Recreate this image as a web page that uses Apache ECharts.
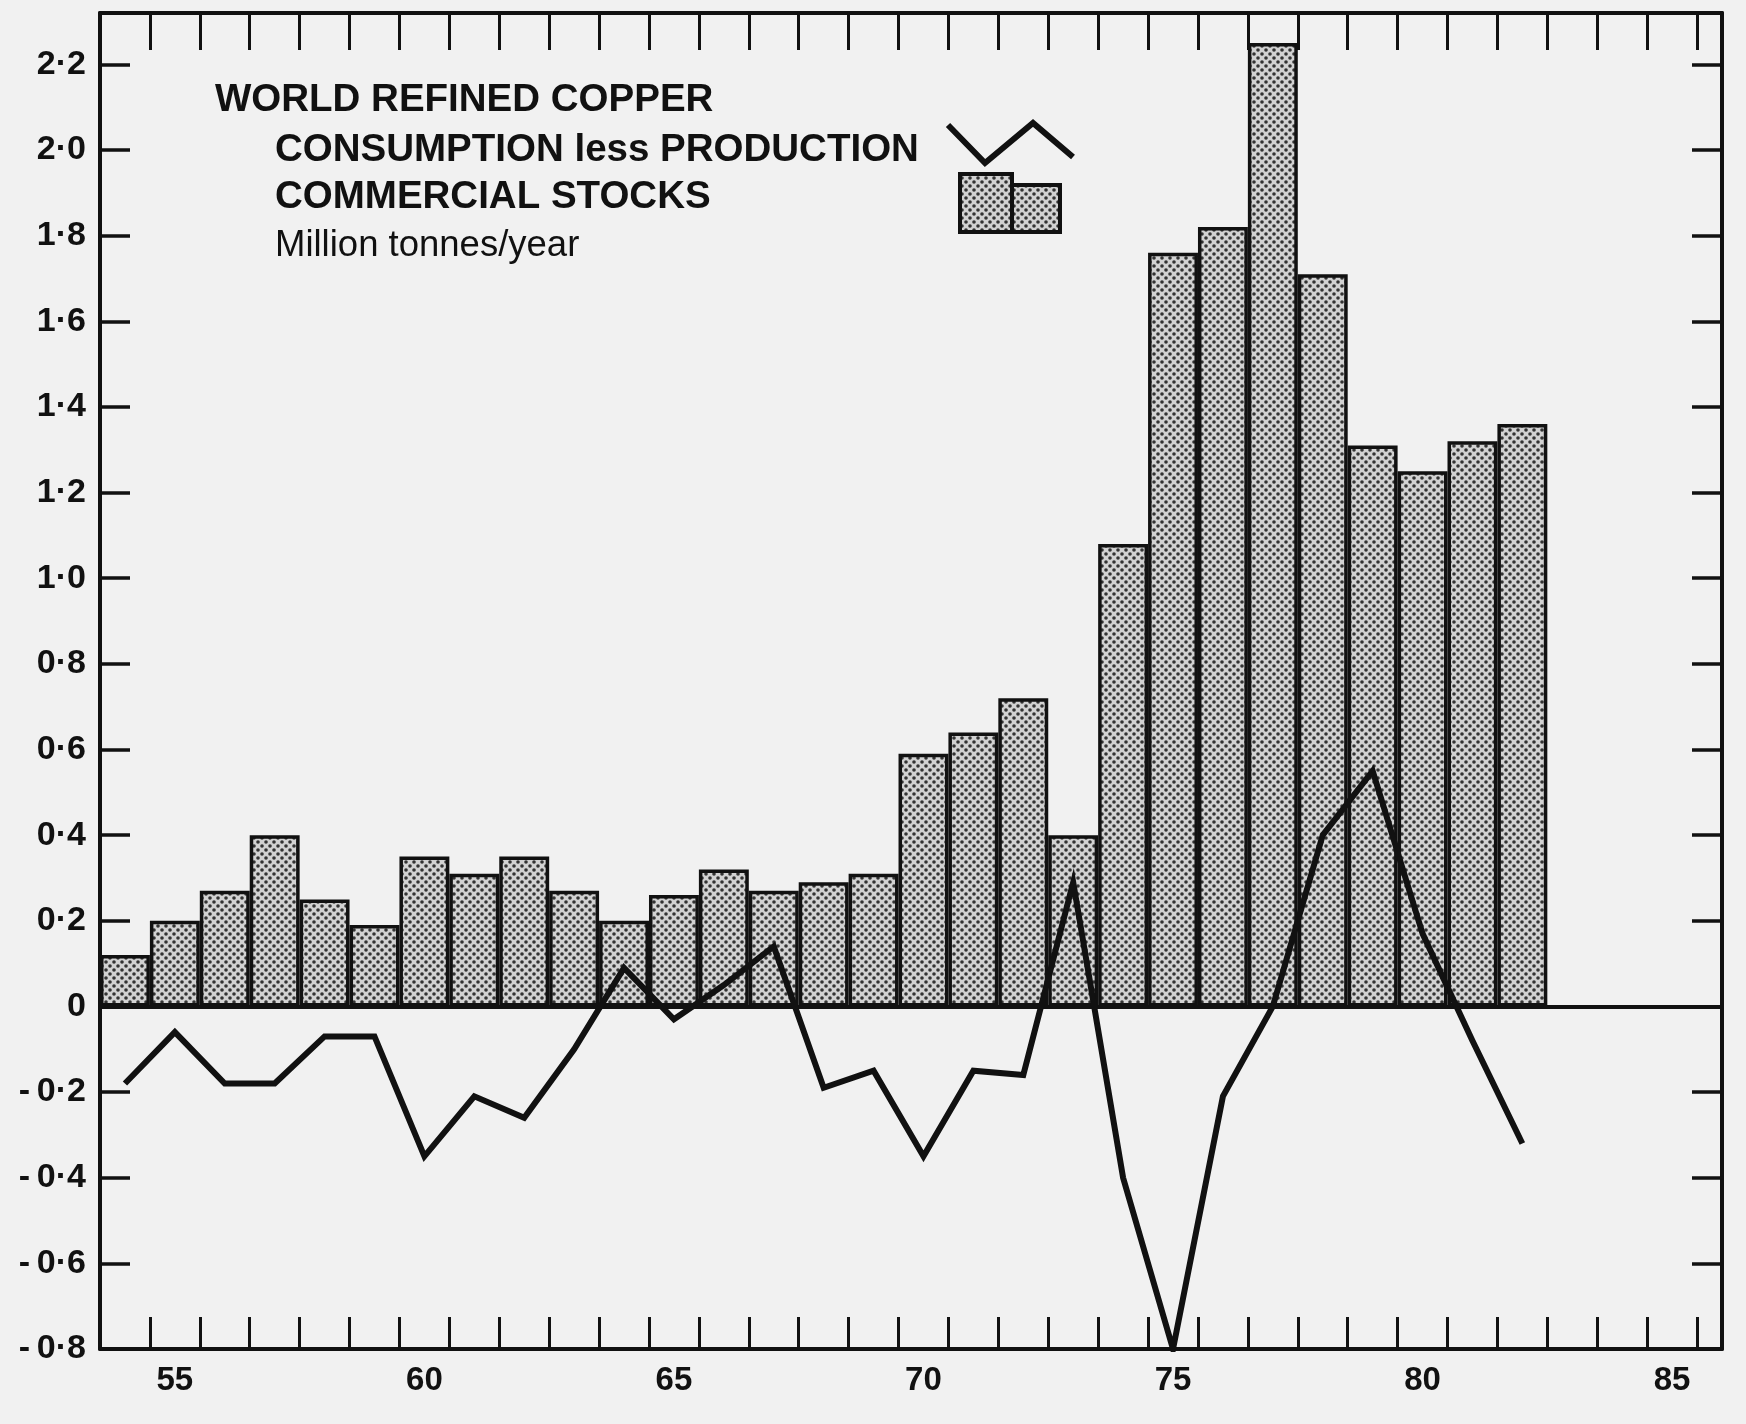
<!DOCTYPE html>
<html>
<head>
<meta charset="utf-8">
<title>World refined copper</title>
<script src="https://cdn.jsdelivr.net/npm/echarts@6/dist/echarts.min.js"></script>
<style>
  html, body { margin: 0; padding: 0; background: #f1f1f1; }
  #chart { width: 1746px; height: 1424px; }
</style>
</head>
<body>
<div id="chart"></div>
<script>
// years 1954 .. 1982
var years = [54, 55, 56, 57, 58, 59, 60, 61, 62, 63, 64, 65, 66, 67, 68,
             69, 70, 71, 72, 73, 74, 75, 76, 77, 78, 79, 80, 81, 82];

// commercial stocks, million tonnes
var stocks = [0.12, 0.20, 0.27, 0.40, 0.25, 0.19, 0.35, 0.31, 0.35, 0.27,
              0.20, 0.26, 0.32, 0.27, 0.29, 0.31, 0.59, 0.64, 0.72, 0.40,
              1.08, 1.76, 1.82, 2.25, 1.71, 1.31, 1.25, 1.32, 1.36];

// consumption less production, million tonnes/year
var balance = [-0.18, -0.06, -0.18, -0.18, -0.07, -0.07, -0.35, -0.21, -0.26, -0.10,
               0.09, -0.03, 0.05, 0.14, -0.19, -0.15, -0.35, -0.15, -0.16, 0.29,
               -0.40, -0.80, -0.21, 0.00, 0.40, 0.55, 0.17, -0.08, -0.32];

var yTickValues = [-0.8, -0.6, -0.4, -0.2, 0, 0.2, 0.4, 0.6, 0.8, 1.0,
                   1.2, 1.4, 1.6, 1.8, 2.0, 2.2];
var yTickLabels = ['-\u20090·8', '-\u20090·6', '-\u20090·4', '-\u20090·2', '0',
                   '0·2', '0·4', '0·6', '0·8', '1·0',
                   '1·2', '1·4', '1·6', '1·8', '2·0', '2·2'];
var xLabelYears = [55, 60, 65, 70, 75, 80, 85];

// ticks sit on the bar boundaries
var xTickYears = [];
for (var t = 54.5; t < 86; t += 1) xTickYears.push(t);

var ink = '#111';
var axisFont = "'Liberation Sans', Arial, sans-serif";

// stippled fill like the printed screen
var dots = document.createElement('canvas');
dots.width = 8;
dots.height = 8;
var g = dots.getContext('2d');
g.fillStyle = '#d2d2d2';
g.fillRect(0, 0, 8, 8);
g.fillStyle = '#333';
[[2, 2], [6, 6]].forEach(function (p) {
  g.beginPath();
  g.arc(p[0], p[1], 1.8, 0, Math.PI * 2);
  g.fill();
});
var stipple = { image: dots, repeat: 'repeat' };

var gridLeft = 100, gridRight = 24, gridTop = 13, gridBottom = 75;
var xMin = 53.5, xMax = 86;
var barPx = (1746 - gridLeft - gridRight) / (xMax - xMin);

var chart = echarts.init(document.getElementById('chart'));

function yLabel(v) {
  var best = 0;
  for (var i = 0; i < yTickValues.length; i++) {
    if (Math.abs(yTickValues[i] - v) < Math.abs(yTickValues[best] - v)) best = i;
  }
  return yTickLabels[best];
}

var option = {
  backgroundColor: '#f1f1f1',
  animation: false,
  grid: { left: gridLeft, right: gridRight, top: gridTop, bottom: gridBottom },
  xAxis: [{
    type: 'value',
    position: 'bottom',
    min: xMin,
    max: xMax,
    axisLine: { show: true, onZero: false, lineStyle: { color: ink, width: 4 } },
    axisTick: { show: true, inside: true, length: 32, customValues: xTickYears,
                lineStyle: { color: ink, width: 3 } },
    axisLabel: { customValues: xLabelYears, color: ink, fontSize: 33, fontWeight: 'bold',
                 fontFamily: axisFont, margin: 15 },
    splitLine: { show: false }
  }, {
    type: 'value',
    position: 'top',
    min: xMin,
    max: xMax,
    axisLine: { show: true, onZero: false, lineStyle: { color: ink, width: 4 } },
    axisTick: { show: true, inside: true, length: 37, customValues: xTickYears,
                lineStyle: { color: ink, width: 3 } },
    axisLabel: { show: false },
    splitLine: { show: false }
  }],
  yAxis: [{
    type: 'value',
    position: 'left',
    min: -0.8,
    max: 2.32,
    axisLine: { show: true, onZero: false, lineStyle: { color: ink, width: 4 } },
    axisTick: { show: true, inside: true, length: 30, customValues: yTickValues,
                lineStyle: { color: ink, width: 3.5 } },
    axisLabel: { customValues: yTickValues, formatter: yLabel, color: ink, fontSize: 34,
                 fontWeight: 'bold', fontFamily: axisFont, margin: 14 },
    splitLine: { show: false }
  }, {
    type: 'value',
    position: 'right',
    min: -0.8,
    max: 2.32,
    axisLine: { show: true, onZero: false, lineStyle: { color: ink, width: 4 } },
    axisTick: { show: true, inside: true, length: 30, customValues: yTickValues,
                lineStyle: { color: ink, width: 3.5 } },
    axisLabel: { show: false },
    splitLine: { show: false }
  }],
  series: [{
    name: 'COMMERCIAL STOCKS',
    type: 'bar',
    xAxisIndex: 0,
    yAxisIndex: 0,
    barWidth: barPx,
    data: years.map(function (y, i) { return [y, stocks[i]]; }),
    itemStyle: { color: stipple, borderColor: ink, borderWidth: 3.5 },
    markLine: {
      silent: true,
      symbol: ['none', 'none'],
      label: { show: false },
      lineStyle: { color: ink, width: 4, type: 'solid' },
      data: [{ yAxis: 0 }]
    }
  }, {
    name: 'CONSUMPTION less PRODUCTION',
    type: 'line',
    xAxisIndex: 0,
    yAxisIndex: 0,
    z: 5,
    showSymbol: false,
    data: years.map(function (y, i) { return [y, balance[i]]; }),
    lineStyle: { color: ink, width: 6, join: 'miter' }
  }],
  graphic: [
    { type: 'text', x: 215, y: 100, style: { text: 'WORLD REFINED COPPER', fill: ink,
      font: "bold 38.5px 'Liberation Sans', Arial, sans-serif", verticalAlign: 'middle' } },
    { type: 'text', x: 275, y: 150, style: { text: 'CONSUMPTION less PRODUCTION', fill: ink,
      font: "bold 38.5px 'Liberation Sans', Arial, sans-serif", verticalAlign: 'middle' } },
    { type: 'text', x: 275, y: 197, style: { text: 'COMMERCIAL STOCKS', fill: ink,
      font: "bold 38.5px 'Liberation Sans', Arial, sans-serif", verticalAlign: 'middle' } },
    { type: 'text', x: 275, y: 246, style: { text: 'Million tonnes/year', fill: ink,
      font: "36.5px 'Liberation Sans', Arial, sans-serif", verticalAlign: 'middle' } },
    { type: 'polyline', shape: { points: [[948, 125], [985, 163], [1033, 123], [1073, 157]] },
      style: { stroke: ink, lineWidth: 6, fill: null } },
    { type: 'rect', shape: { x: 960, y: 174, width: 52, height: 58 },
      style: { fill: stipple, stroke: ink, lineWidth: 4 } },
    { type: 'rect', shape: { x: 1012, y: 185, width: 48, height: 47 },
      style: { fill: stipple, stroke: ink, lineWidth: 4 } }
  ]
};

chart.setOption(option);
</script>
</body>
</html>
